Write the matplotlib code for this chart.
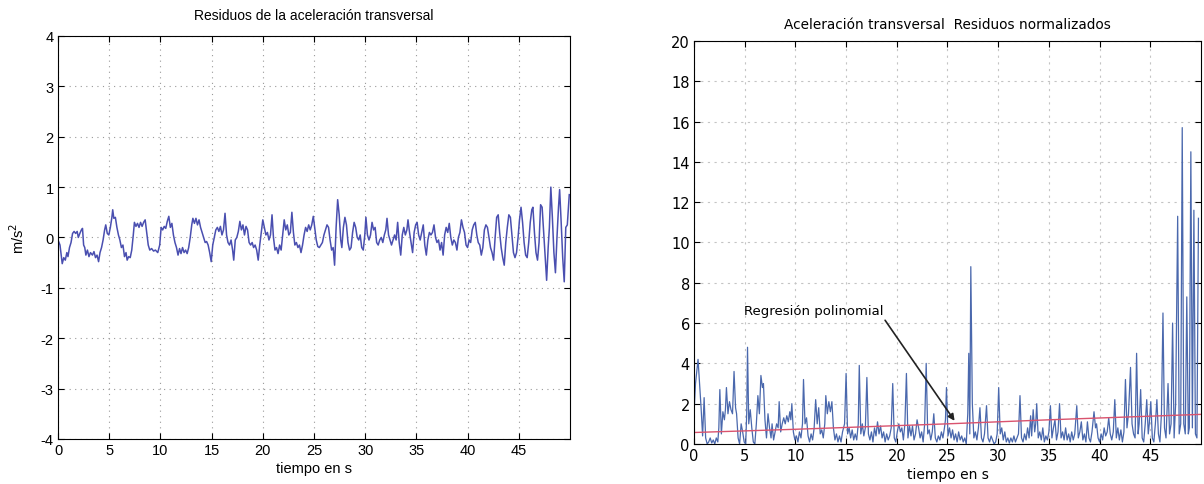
import numpy as np
import matplotlib
matplotlib.use("Agg")
import matplotlib.pyplot as plt

plt.rcParams["axes.unicode_minus"] = False

# --- left panel: residuos de la aceleracion transversal (m/s^2) ---
t_res = [0.00, 0.19, 0.41, 0.56, 0.71, 0.86, 0.97, 1.12, 1.27, 1.42, 1.57, 1.72, 1.87, 1.98, 2.13, 2.28,
         2.39, 2.50, 2.61, 2.72, 2.87, 3.02, 3.17, 3.36, 3.51, 3.66, 3.81, 3.96, 4.10, 4.25, 4.40, 4.55,
         4.66, 4.81, 4.96, 5.11, 5.26, 5.34, 5.45, 5.60, 5.75, 5.90, 6.04, 6.19, 6.34, 6.49, 6.64, 6.75,
         6.90, 7.05, 7.20, 7.35, 7.46, 7.61, 7.76, 7.91, 8.06, 8.21, 8.36, 8.51, 8.66, 8.81, 8.96, 9.14,
         9.33, 9.51, 9.74, 9.93, 10.07, 10.22, 10.37, 10.52, 10.67, 10.82, 10.97, 11.12, 11.27, 11.42, 11.57, 11.72,
         11.87, 12.01, 12.16, 12.31, 12.46, 12.61, 12.76, 12.91, 13.06, 13.17, 13.32, 13.47, 13.62, 13.77, 13.92, 14.07,
         14.22, 14.37, 14.51, 14.66, 14.81, 14.96, 15.11, 15.26, 15.41, 15.56, 15.71, 15.86, 16.01, 16.16, 16.31, 16.46,
         16.60, 16.75, 16.90, 17.05, 17.16, 17.31, 17.46, 17.61, 17.76, 17.91, 18.06, 18.21, 18.36, 18.51, 18.66, 18.81,
         18.96, 19.10, 19.25, 19.40, 19.55, 19.70, 19.85, 20.00, 20.15, 20.30, 20.45, 20.60, 20.75, 20.90, 21.04, 21.19,
         21.34, 21.49, 21.64, 21.79, 21.94, 22.09, 22.24, 22.39, 22.54, 22.69, 22.84, 22.99, 23.13, 23.28, 23.43, 23.58,
         23.73, 23.88, 24.03, 24.18, 24.33, 24.48, 24.63, 24.78, 24.93, 25.07, 25.22, 25.37, 25.52, 25.67, 25.82, 25.97,
         26.12, 26.27, 26.42, 26.57, 26.72, 26.87, 27.01, 27.16, 27.31, 27.46, 27.61, 27.72, 27.87, 28.02, 28.17, 28.32,
         28.47, 28.62, 28.77, 28.92, 29.07, 29.22, 29.37, 29.51, 29.66, 29.81, 29.96, 30.07, 30.22, 30.37, 30.52, 30.67,
         30.82, 30.97, 31.12, 31.27, 31.42, 31.57, 31.72, 31.87, 32.01, 32.13, 32.28, 32.43, 32.57, 32.72, 32.87, 33.02,
         33.17, 33.32, 33.47, 33.62, 33.77, 33.92, 34.07, 34.18, 34.33, 34.48, 34.63, 34.78, 34.93, 35.07, 35.22, 35.37,
         35.52, 35.67, 35.82, 35.97, 36.12, 36.27, 36.42, 36.57, 36.72, 36.87, 37.01, 37.16, 37.31, 37.46, 37.61, 37.76,
         37.91, 38.06, 38.21, 38.36, 38.51, 38.66, 38.81, 38.96, 39.10, 39.25, 39.40, 39.55, 39.70, 39.85, 40.00, 40.15,
         40.30, 40.45, 40.60, 40.75, 40.90, 41.04, 41.19, 41.34, 41.49, 41.64, 41.79, 41.94, 42.09, 42.24, 42.39, 42.54,
         42.69, 42.84, 42.99, 43.13, 43.28, 43.43, 43.58, 43.73, 43.88, 44.03, 44.18, 44.33, 44.48, 44.63, 44.78, 44.93,
         45.07, 45.22, 45.37, 45.52, 45.67, 45.82, 45.97, 46.12, 46.27, 46.38, 46.53, 46.68, 46.83, 46.98, 47.13, 47.28,
         47.43, 47.57, 47.72, 47.87, 47.99, 48.13, 48.28, 48.43, 48.58, 48.73, 48.88, 48.99, 49.14, 49.29, 49.44, 49.59,
         49.74, 49.93]
a_res = [-0.05, -0.15, -0.52, -0.40, -0.45, -0.30, -0.38, -0.20, -0.10, 0.08, 0.12, 0.08, 0.12, 0.00, 0.08, 0.15,
         0.18, -0.15, -0.20, -0.35, -0.25, -0.38, -0.30, -0.35, -0.28, -0.40, -0.35, -0.48, -0.30, -0.20, -0.05, 0.15,
         0.25, 0.08, 0.05, 0.20, 0.40, 0.55, 0.38, 0.40, 0.20, 0.05, -0.05, -0.20, -0.15, -0.38, -0.30, -0.45,
         -0.38, -0.40, -0.25, 0.05, 0.30, 0.22, 0.28, 0.20, 0.30, 0.22, 0.30, 0.35, 0.10, -0.15, -0.25, -0.22,
         -0.27, -0.25, -0.30, -0.15, 0.20, 0.15, 0.22, 0.18, 0.32, 0.42, 0.20, 0.28, 0.05, -0.10, -0.20, -0.35,
         -0.22, -0.32, -0.20, -0.30, -0.25, -0.32, -0.20, 0.00, 0.25, 0.38, 0.28, 0.38, 0.25, 0.35, 0.20, 0.10,
         0.00, -0.10, -0.08, -0.15, -0.30, -0.48, -0.15, 0.00, 0.15, 0.20, 0.12, 0.22, 0.05, 0.15, 0.48, 0.05,
         -0.10, -0.15, -0.05, -0.25, -0.45, -0.05, 0.00, 0.12, 0.32, 0.15, 0.25, 0.05, 0.22, 0.15, -0.10, -0.15,
         -0.10, -0.20, -0.15, -0.25, -0.45, -0.15, 0.10, 0.35, 0.20, 0.05, 0.10, -0.05, 0.05, 0.45, 0.00, -0.25,
         -0.20, -0.32, -0.15, -0.25, 0.05, 0.35, 0.15, 0.25, 0.05, 0.10, 0.50, 0.10, -0.15, -0.10, -0.20, -0.15,
         -0.30, -0.15, 0.05, 0.20, 0.12, 0.25, 0.15, 0.25, 0.42, 0.20, -0.05, -0.18, -0.20, -0.15, -0.10, 0.05,
         0.15, 0.25, 0.20, -0.05, -0.25, -0.20, -0.55, 0.20, 0.75, 0.45, -0.05, -0.20, 0.20, 0.40, 0.25, -0.10,
         -0.25, -0.20, 0.10, 0.30, 0.20, 0.00, -0.05, 0.05, -0.20, -0.25, 0.05, 0.40, 0.05, -0.05, 0.05, 0.30,
         0.15, 0.20, -0.10, -0.15, -0.05, 0.00, -0.10, 0.05, 0.15, 0.38, 0.05, -0.05, -0.15, -0.05, 0.05, -0.05,
         0.30, -0.10, -0.35, 0.05, 0.20, 0.05, 0.15, 0.35, 0.10, -0.10, -0.30, 0.10, 0.25, 0.30, 0.05, -0.05,
         0.10, 0.25, -0.15, -0.35, -0.05, 0.10, 0.05, 0.10, 0.25, 0.00, -0.10, -0.05, -0.25, -0.10, -0.35, 0.05,
         0.20, 0.10, 0.28, 0.00, -0.15, -0.05, -0.10, -0.25, 0.00, 0.10, 0.35, 0.20, 0.10, -0.15, -0.20, -0.05,
         -0.10, 0.15, 0.25, 0.30, 0.05, -0.10, -0.15, -0.35, -0.20, 0.15, 0.25, 0.20, 0.00, -0.20, -0.30, -0.45,
         0.00, 0.40, 0.45, 0.10, -0.20, -0.40, -0.55, -0.10, 0.20, 0.45, 0.40, 0.05, -0.30, -0.40, -0.30, 0.00,
         0.35, 0.60, 0.30, -0.10, -0.35, -0.40, -0.10, 0.30, 0.55, 0.60, 0.10, -0.30, -0.45, -0.10, 0.65, 0.60,
         0.10, -0.40, -0.85, -0.20, 0.20, 1.00, 0.40, -0.30, -0.70, 0.00, 0.60, 0.95, 0.30, -0.40, -0.88, 0.20,
         0.25, 0.85]

# --- right panel: residuos normalizados ---
t_norm = [0.0, 0.15, 0.4, 0.55, 0.7, 0.85, 1.0, 1.15, 1.3, 1.45, 1.6, 1.75, 1.9, 2.05, 2.2, 2.35,
          2.45, 2.55, 2.7, 2.85, 3.0, 3.1, 3.2, 3.35, 3.5, 3.65, 3.8, 3.95, 4.1, 4.2, 4.35, 4.5,
          4.65, 4.8, 4.95, 5.1, 5.2, 5.28, 5.4, 5.55, 5.7, 5.85, 6.0, 6.15, 6.3, 6.45, 6.6, 6.75,
          6.85, 7.0, 7.15, 7.3, 7.45, 7.6, 7.7, 7.85, 8.0, 8.15, 8.3, 8.4, 8.55, 8.7, 8.85, 9.0,
          9.15, 9.3, 9.45, 9.55, 9.65, 9.8, 9.95, 10.1, 10.25, 10.4, 10.55, 10.7, 10.8, 10.95, 11.1, 11.25,
          11.4, 11.55, 11.7, 11.85, 12.0, 12.15, 12.3, 12.45, 12.6, 12.75, 12.9, 13.0, 13.15, 13.3, 13.45, 13.6,
          13.75, 13.9, 14.05, 14.2, 14.35, 14.5, 14.65, 14.85, 15.0, 15.15, 15.3, 15.45, 15.6, 15.75, 15.9, 16.05,
          16.2, 16.3, 16.45, 16.6, 16.75, 16.9, 17.05, 17.2, 17.35, 17.5, 17.65, 17.8, 17.95, 18.1, 18.25, 18.4,
          18.55, 18.7, 18.85, 19.0, 19.15, 19.3, 19.45, 19.6, 19.75, 19.9, 20.05, 20.2, 20.35, 20.5, 20.65, 20.8,
          20.95, 21.1, 21.25, 21.4, 21.55, 21.7, 21.85, 22.0, 22.15, 22.3, 22.45, 22.6, 22.75, 22.9, 23.05, 23.2,
          23.35, 23.5, 23.65, 23.8, 23.95, 24.1, 24.25, 24.4, 24.55, 24.7, 24.8, 24.9, 25.05, 25.2, 25.35, 25.5,
          25.65, 25.8, 25.95, 26.1, 26.25, 26.4, 26.55, 26.7, 26.85, 27.0, 27.1, 27.2, 27.3, 27.45, 27.6, 27.75,
          27.9, 28.05, 28.2, 28.35, 28.5, 28.65, 28.85, 29.0, 29.15, 29.3, 29.45, 29.6, 29.75, 29.9, 30.05, 30.2,
          30.35, 30.5, 30.65, 30.8, 30.95, 31.1, 31.25, 31.4, 31.55, 31.7, 31.85, 32.0, 32.15, 32.3, 32.45, 32.6,
          32.75, 32.9, 33.05, 33.2, 33.3, 33.45, 33.6, 33.7, 33.8, 33.95, 34.1, 34.25, 34.4, 34.55, 34.7, 34.85,
          35.0, 35.15, 35.3, 35.45, 35.6, 35.75, 35.9, 36.05, 36.2, 36.35, 36.5, 36.65, 36.8, 36.95, 37.1, 37.25,
          37.4, 37.55, 37.75, 37.9, 38.05, 38.2, 38.35, 38.5, 38.65, 38.8, 38.95, 39.1, 39.25, 39.45, 39.6, 39.7,
          39.85, 40.0, 40.15, 40.3, 40.45, 40.6, 40.75, 40.9, 41.05, 41.2, 41.35, 41.5, 41.65, 41.8, 41.95, 42.1,
          42.25, 42.4, 42.55, 42.7, 42.85, 43.05, 43.2, 43.35, 43.5, 43.65, 43.8, 43.9, 44.05, 44.2, 44.35, 44.5,
          44.65, 44.8, 44.9, 45.05, 45.2, 45.35, 45.5, 45.65, 45.8, 45.95, 46.1, 46.25, 46.4, 46.55, 46.75, 46.9,
          47.05, 47.2, 47.35, 47.5, 47.7, 47.85, 48.0, 48.15, 48.3, 48.45, 48.6, 48.75, 48.85, 49.0, 49.15, 49.3,
          49.45, 49.6, 49.75]
r_norm = [1.5, 3.0, 4.2, 3.0, 1.8, 0.4, 2.3, 0.3, 0.0, 0.1, 0.3, 0.05, 0.2, 0.0, 0.3, 0.1,
          0.8, 2.7, 0.5, 1.6, 1.2, 1.7, 2.8, 1.5, 2.1, 1.7, 1.5, 3.6, 1.8, 1.5, 0.3, 0.0,
          1.0, 0.6, 0.1, 0.0, 1.5, 4.8, 1.0, 1.7, 0.8, 0.1, 0.0, 1.0, 2.4, 1.5, 3.4, 2.8,
          3.0, 1.2, 0.3, 1.5, 0.8, 0.3, 1.0, 0.2, 0.6, 1.0, 0.8, 2.1, 0.6, 1.0, 1.3, 1.0,
          1.4, 1.1, 1.6, 1.2, 2.0, 0.6, 0.2, 0.4, 0.1, 0.6, 0.3, 1.0, 3.2, 1.0, 1.3, 0.4,
          0.1, 0.5, 0.2, 0.8, 2.2, 1.0, 1.8, 0.5, 0.7, 0.3, 1.0, 2.4, 1.5, 2.1, 1.6, 2.1,
          0.8, 0.2, 0.5, 0.1, 0.4, 0.1, 0.6, 1.0, 3.5, 0.5, 0.8, 0.3, 0.7, 0.2, 0.5, 0.2,
          1.0, 3.9, 0.5, 1.0, 0.4, 0.8, 3.3, 0.5, 0.2, 0.6, 0.1, 0.8, 0.4, 1.1, 0.5, 0.9,
          0.3, 0.6, 0.1, 0.5, 0.2, 0.4, 0.8, 3.0, 0.3, 0.1, 0.6, 1.0, 0.6, 0.8, 0.2, 1.0,
          3.5, 0.3, 0.9, 0.4, 0.9, 0.2, 0.5, 1.2, 0.8, 0.3, 0.6, 0.1, 1.0, 4.0, 0.5, 0.7,
          0.2, 0.6, 1.5, 0.3, 0.1, 0.4, 0.2, 0.6, 0.3, 0.8, 1.2, 2.8, 0.4, 0.8, 0.3, 0.7,
          0.2, 0.5, 0.1, 0.6, 0.2, 0.4, 0.1, 0.3, 0.0, 1.5, 4.5, 0.5, 8.8, 2.0, 0.3, 0.6,
          0.2, 0.8, 1.8, 0.3, 0.1, 0.5, 1.9, 0.3, 0.1, 0.4, 0.2, 0.0, 0.1, 0.5, 2.8, 0.5,
          0.8, 0.2, 0.6, 0.1, 0.3, 0.05, 0.3, 0.1, 0.4, 0.1, 0.3, 0.5, 2.4, 0.3, 0.1, 0.5,
          0.2, 0.8, 0.3, 1.4, 0.4, 1.7, 0.6, 1.0, 2.0, 0.3, 0.6, 0.2, 0.8, 0.1, 0.4, 0.2,
          0.6, 1.9, 0.3, 0.8, 1.2, 0.2, 0.6, 2.0, 0.3, 0.6, 0.2, 0.8, 0.2, 0.5, 0.1, 0.6,
          0.2, 0.5, 1.9, 0.3, 0.6, 1.1, 0.2, 0.5, 0.1, 1.1, 0.3, 0.1, 0.6, 1.6, 0.8, 1.0,
          0.3, 0.1, 0.5, 0.2, 0.8, 0.4, 0.6, 1.3, 0.5, 0.2, 0.6, 2.2, 0.3, 0.8, 0.2, 0.7,
          0.1, 0.6, 3.2, 0.8, 1.5, 3.8, 1.0, 0.5, 0.3, 4.5, 0.5, 1.0, 2.7, 0.3, 0.1, 1.0,
          2.2, 0.5, 1.0, 2.1, 0.3, 0.1, 1.0, 2.2, 0.5, 0.1, 1.5, 6.5, 0.8, 0.3, 3.0, 0.5,
          1.0, 6.0, 0.3, 2.0, 11.3, 0.5, 1.0, 15.7, 1.0, 0.5, 7.3, 0.5, 0.8, 14.5, 0.8, 11.6,
          0.5, 0.3, 11.2]

# regresion polinomial
t_reg = [0, 5, 10, 15, 20, 25, 30, 35, 40, 45, 50]
r_reg = [0.57, 0.65, 0.73, 0.82, 0.91, 1.00, 1.10, 1.20, 1.29, 1.38, 1.47]

fig = plt.figure(figsize=(12.04, 4.85), dpi=100)

# left panel
ax1 = fig.add_axes([0.0482, 0.0928, 0.4252, 0.831])
ax1.plot(t_res, a_res, color="#4a4fb0", lw=1.1)
ax1.set_xlim(0, 50)
ax1.set_ylim(-4, 4)
ax1.set_xticks(np.arange(0, 50, 5))
ax1.set_yticks(np.arange(-4, 5, 1))
ax1.grid(True, ls=(0, (1, 4)), color="#999999", lw=0.8)
ax1.tick_params(direction="in", top=True, right=True, labelsize=10.5, length=4, pad=3)
for lab in ax1.get_xticklabels() + ax1.get_yticklabels():
    lab.set_family("Liberation Sans")
ax1.set_title("Residuos de la aceleración transversal", fontsize=10, family="Liberation Sans", pad=12)
ax1.set_xlabel("tiempo en s", fontsize=10.5, family="Liberation Sans", labelpad=3)
ax1.set_ylabel("m/s$^2$", fontsize=10.5, family="Liberation Sans", labelpad=10)

# right panel
ax2 = fig.add_axes([0.5764, 0.0825, 0.4211, 0.831])
ax2.plot(t_norm, r_norm, color="#4a68ad", lw=0.9)
ax2.plot(t_reg, r_reg, color="#d9536e", lw=1.0)
ax2.set_xlim(0, 50)
ax2.set_ylim(0, 20)
ax2.set_xticks(np.arange(0, 50, 5))
ax2.set_yticks(np.arange(0, 21, 2))
ax2.grid(True, ls=(0, (2, 4)), color="#c4c4c4", lw=0.8)
ax2.tick_params(direction="in", top=True, right=True, labelsize=10.5, length=4, pad=3)
ax2.set_title("Aceleración transversal  Residuos normalizados", fontsize=9.8, pad=9)
ax2.set_xlabel("tiempo en s", fontsize=10, labelpad=3)
ax2.annotate("Regresión polinomial", xy=(25.7, 1.15), xytext=(4.9, 6.6),
             fontsize=9.5, va="center", ha="left",
             arrowprops=dict(arrowstyle="-|>", color="#222222", lw=1.2,
                             shrinkA=0, shrinkB=0, relpos=(1.0, 0.0)))

fig.savefig("out.png", dpi=100)
